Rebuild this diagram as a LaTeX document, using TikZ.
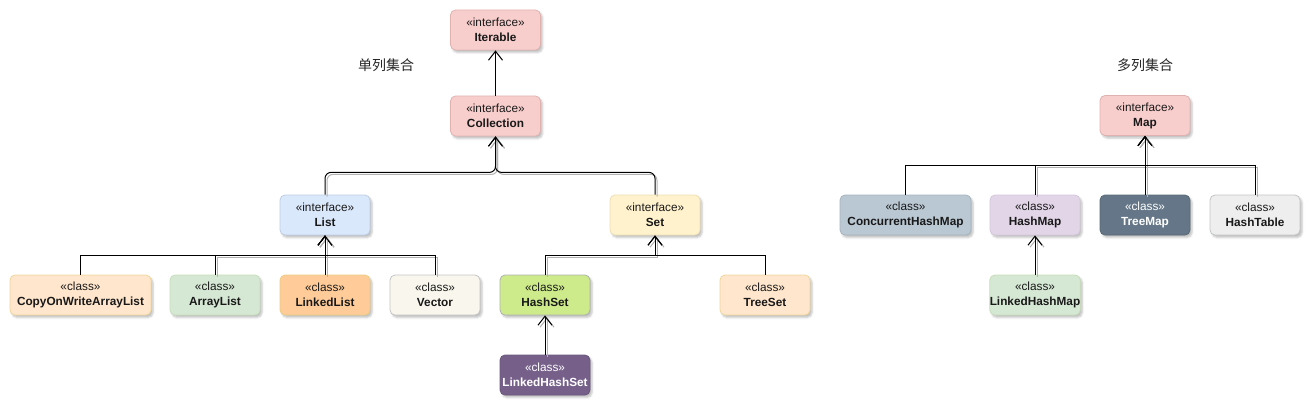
\documentclass[tikz,border=0pt]{standalone}
\usepackage{fontspec}
\setmainfont{Liberation Sans}
\newfontfamily\cjk{Noto Sans CJK SC}
\usepackage{xcolor}
\usetikzlibrary{arrows.meta, shadows.blur}

\definecolor{redF}{HTML}{F8CECC}    \definecolor{redL}{HTML}{B85450}
\definecolor{blueF}{HTML}{DAE8FC}   \definecolor{blueL}{HTML}{6C8EBF}
\definecolor{yellowF}{HTML}{FFF2CC} \definecolor{yellowL}{HTML}{D6B656}
\definecolor{orangeF}{HTML}{FFE6CC} \definecolor{orangeL}{HTML}{D79B00}
\definecolor{greenF}{HTML}{D5E8D4}  \definecolor{greenL}{HTML}{82B366}
\definecolor{apricotF}{HTML}{FFCC99}
\definecolor{ivoryF}{HTML}{F9F7ED}  \definecolor{grayL}{HTML}{36393D}
\definecolor{limeF}{HTML}{CDEB8B}
\definecolor{purpleF}{HTML}{76608A} \definecolor{purpleL}{HTML}{432D57}
\definecolor{steelF}{HTML}{BAC8D3}  \definecolor{steelL}{HTML}{23445D}
\definecolor{lilacF}{HTML}{E1D5E7}  \definecolor{lilacL}{HTML}{9673A6}
\definecolor{slateF}{HTML}{647687}  \definecolor{slateL}{HTML}{314354}
\definecolor{silverF}{HTML}{EEEEEE}

\newcommand{\uml}[2]{«#1»\\\textbf{#2}}

\tikzset{
  umlbox/.style={rectangle, rounded corners=5pt, draw, line width=0.8pt,
    minimum width=90pt, minimum height=40pt, inner xsep=0pt, inner ysep=2pt,
    align=center, font=\fontsize{11.8pt}{15pt}\selectfont, text=black!90,
    blur shadow={shadow xshift=2pt, shadow yshift=-2.5pt, shadow opacity=25, shadow blur radius=2pt}},
  inherits/.style={line width=1pt, ->},
  linkshade/.style={preaction={draw=black!30, line width=1pt, transform canvas={xshift=2pt, yshift=-2pt}}},
  grouplabel/.style={font=\cjk\fontsize{14pt}{16pt}\selectfont, text=black!85}
}

\begin{document}
\begin{tikzpicture}[x=1pt, y=-1pt, >={Straight Barb[length=9pt,width=14pt]}]
  \useasboundingbox (0,0) rectangle (1313,409);

  % single-column collections
  \node (lblsingle) [grouplabel] at (386,65) {单列集合};
  \node (iter) [umlbox, fill=redF, draw=redL!45] at (495.5,30) {\uml{interface}{Iterable}};
  \node (coll) [umlbox, fill=redF, draw=redL!45, below of=iter, node distance=86pt] {\uml{interface}{Collection}};
  \node (list) [umlbox, fill=blueF, draw=blueL!45] at (325,215) {\uml{interface}{List}};
  \node (set) [umlbox, fill=yellowF, draw=yellowL!45, right of=list, node distance=330pt] {\uml{interface}{Set}};

  \node (cow) [umlbox, fill=orangeF, draw=orangeL!40, minimum width=141pt] at (80.5,295) {\uml{class}{CopyOnWriteArrayList}};
  \node (alist) [umlbox, fill=greenF, draw=greenL!45] at (215,295) {\uml{class}{ArrayList}};
  \node (llist) [umlbox, fill=apricotF, draw=orangeL!50, right of=alist, node distance=110pt] {\uml{class}{LinkedList}};
  \node (vec) [umlbox, fill=ivoryF, draw=grayL!30, right of=llist, node distance=110pt] {\uml{class}{Vector}};

  \node (hset) [umlbox, fill=limeF, draw=grayL!40] at (545,295) {\uml{class}{HashSet}};
  \node (tset) [umlbox, fill=orangeF, draw=orangeL!40, right of=hset, node distance=220pt] {\uml{class}{TreeSet}};
  \node (lhset) [umlbox, fill=purpleF, draw=purpleL!80, text=white, below of=hset, node distance=80pt] {\uml{class}{LinkedHashSet}};

  % multi-column collections
  \node (lblmulti) [grouplabel] at (1145,65) {多列集合};
  \node (map) [umlbox, fill=redF, draw=redL!45] at (1145,115.5) {\uml{interface}{Map}};
  \node (tmap) [umlbox, fill=slateF, draw=slateL!80, text=white, below of=map, node distance=99.5pt] {\uml{class}{TreeMap}};
  \node (hmap) [umlbox, fill=lilacF, draw=lilacL!40, left of=tmap, node distance=110pt] {\uml{class}{HashMap}};
  \node (htab) [umlbox, fill=silverF, draw=grayL!30, right of=tmap, node distance=110pt] {\uml{class}{HashTable}};
  \node (chmap) [umlbox, fill=steelF, draw=steelL!40, minimum width=131pt] at (905.5,215) {\uml{class}{ConcurrentHashMap}};
  \node (lhmap) [umlbox, fill=greenF, draw=greenL!45, below of=hmap, node distance=80pt] {\uml{class}{LinkedHashMap}};

  % generalisations
  \draw[inherits] (coll) -- (iter);
  \draw[inherits, linkshade, rounded corners=6pt] (list.north) |- ([yshift=-36pt]coll.south) -- (coll.south);
  \draw[inherits, linkshade, rounded corners=6pt] (set.north) |- ([yshift=-36pt]coll.south) -- (coll.south);

  \draw[inherits] (cow.north) |- ([yshift=-20pt]list.south) -- (list.south);
  \draw[inherits, linkshade] (alist.north) |- ([yshift=-20pt]list.south) -- (list.south);
  \draw[inherits, linkshade] (llist) -- (list);
  \draw[inherits, linkshade] (vec.north) |- ([yshift=-20pt]list.south) -- (list.south);

  \draw[inherits, linkshade] (hset.north) |- ([yshift=-20pt]set.south) -- (set.south);
  \draw[inherits] (tset.north) |- ([yshift=-20pt]set.south) -- (set.south);
  \draw[inherits, linkshade] (lhset) -- (hset);

  \draw[inherits] (chmap.north) |- ([yshift=-30pt]map.south) -- (map.south);
  \draw[inherits, linkshade] (hmap.north) |- ([yshift=-30pt]map.south) -- (map.south);
  \draw[inherits, linkshade] (tmap) -- (map);
  \draw[inherits, linkshade] (htab.north) |- ([yshift=-30pt]map.south) -- (map.south);
  \draw[inherits, linkshade] (lhmap) -- (hmap);
\end{tikzpicture}
\end{document}
